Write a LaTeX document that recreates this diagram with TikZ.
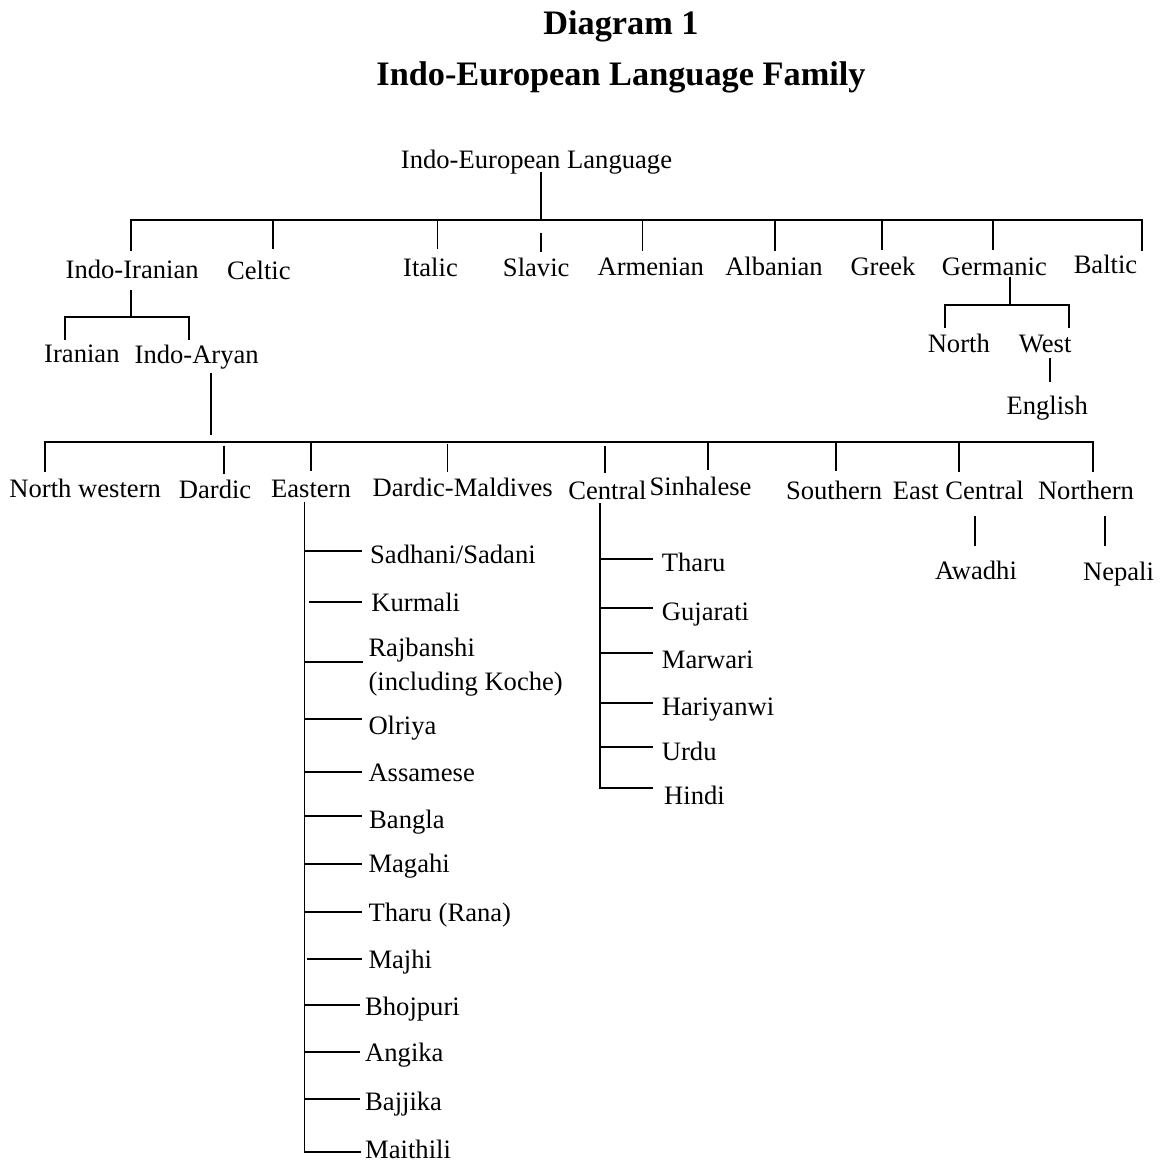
\documentclass[tikz,border=0pt]{standalone}
\usepackage{fontspec}
\setmainfont{Liberation Serif}
\begin{document}
\begin{tikzpicture}[x=1pt,y=-1pt,
  lbl/.style={inner sep=0pt, anchor=base, font=\fontsize{26.6}{32}\selectfont},
  lbll/.style={lbl, anchor=base west},
  ttl/.style={inner sep=0pt, anchor=base, font=\fontsize{34.3}{40}\selectfont\bfseries},
  br/.style={line width=1.8pt, line cap=butt, line join=miter}]
\path[use as bounding box, fill=white] (0,0) rectangle (1162,1169);

% titles
\node[ttl] (t1) at (621,35) {Diagram 1};
\node[ttl] (t2) at (621,86) {Indo-European Language Family};

% root
\node[lbl] (root) at (536.5,168) {Indo-European Language};
\coordinate (rootS) at (541,172);
\coordinate (rootB) at (541,220.3);
\draw[br] (rootS) -- (rootB);

% level 1 labels
\node[lbl] (ii)   at (132.2,278.3) {Indo-Iranian};
\node[lbl] (celt) at (258.9,279.3) {Celtic};
\node[lbl] (ital) at (430.5,276) {Italic};
\node[lbl] (slav) at (536.2,276) {Slavic};
\node[lbl] (arm)  at (650.8,275) {Armenian};
\node[lbl] (alb)  at (774,275) {Albanian};
\node[lbl] (grk)  at (883,275) {Greek};
\node[lbl] (germ) at (994.4,275) {Germanic};
\node[lbl] (balt) at (1105.5,273.3) {Baltic};

% top bar with end drops
\coordinate (barL) at (131,220.3);
\coordinate (barR) at (1141.6,220.3);
\coordinate (iiT) at (131,250.7);
\coordinate (baltT) at (1141.6,250.7);
\draw[br] (iiT) -- (barL) -- (barR) -- (baltT);
% inner drops
\coordinate (celtA) at (273.2,220.3); \coordinate (celtT) at (273.2,249);
\coordinate (italA) at (437.4,220.3); \coordinate (italT) at (437.4,248.7);
\coordinate (slavA) at (540.8,232.7); \coordinate (slavT) at (540.8,251.7);
\coordinate (armA)  at (642.5,220.3); \coordinate (armT)  at (642.5,250.7);
\coordinate (albA)  at (775,220.3);   \coordinate (albT)  at (775,251);
\coordinate (grkA)  at (881.7,220.3); \coordinate (grkT)  at (881.7,250);
\coordinate (germA) at (992.6,220.3); \coordinate (germT) at (992.6,249.7);
\draw[br] (celtA) -- (celtT);
\draw[br] (italA) -- (italT);
\draw[br] (slavA) -- (slavT);
\draw[br] (armA) -- (armT);
\draw[br] (albA) -- (albT);
\draw[br] (grkA) -- (grkT);
\draw[br] (germA) -- (germT);

% Indo-Iranian subtree
\node[lbl] (iran) at (81.9,362.7) {Iranian};
\node[lbl] (ia)   at (196.7,363) {Indo-Aryan};
\coordinate (iiS) at (130.9,290);
\coordinate (iiB) at (130.9,316.7);
\draw[br] (iiS) -- (iiB);
\coordinate (iranT) at (65,340);
\coordinate (iaT) at (188.7,340);
\draw[br] (iranT) -- (65,316.7) -- (188.7,316.7) -- (iaT);

% Germanic subtree
\node[lbl] (gn) at (958.8,352.3) {North};
\node[lbl] (gw) at (1045.2,352.3) {West};
\node[lbl] (eng) at (1047.2,414) {English};
\coordinate (germS) at (1009.9,277.3);
\coordinate (germB) at (1009.9,305);
\draw[br] (germS) -- (germB);
\coordinate (gnT) at (944.6,328.3);
\coordinate (gwT) at (1068.6,328.3);
\draw[br] (gnT) -- (944.6,305) -- (1068.6,305) -- (gwT);
\coordinate (gwS) at (1050.2,358.3);
\coordinate (engT) at (1050.2,382.3);
\draw[br] (gwS) -- (engT);

% Indo-Aryan stem and bar
\coordinate (iaS) at (210.9,373.3);
\coordinate (iaE) at (210.9,435);
\draw[br] (iaS) -- (iaE);
\coordinate (nwT) at (45.2,471.7);
\coordinate (nT) at (1092.8,471.7);
\draw[br] (nwT) -- (45.2,442.3) -- (1092.8,442.3) -- (nT);

% level 3 labels
\node[lbl] (nw)  at (85.2,497.7) {North western};
\node[lbl] (dar) at (215.1,498.3) {Dardic};
\node[lbl] (eas) at (311,497.7) {Eastern};
\node[lbl] (dm)  at (462.7,496.7) {Dardic-Maldives};
\node[lbl] (cen) at (607.4,499.3) {Central};
\node[lbl] (sin) at (700.5,495.3) {Sinhalese};
\node[lbl] (sou) at (834.1,499.3) {Southern};
\node[lbl] (ec)  at (958.3,499.3) {East Central};
\node[lbl] (nor) at (1086,499.3) {Northern};

\coordinate (darA) at (223.9,445.7); \coordinate (darT) at (223.9,474.3);
\coordinate (easA) at (310.8,442.3); \coordinate (easT) at (310.8,470.7);
\coordinate (dmA)  at (447.4,444);   \coordinate (dmT)  at (447.4,472.3);
\coordinate (cenA) at (605.3,445.7); \coordinate (cenT) at (605.3,473.3);
\coordinate (sinA) at (707.8,442.3); \coordinate (sinT) at (707.8,470);
\coordinate (souA) at (835.6,442.3); \coordinate (souT) at (835.6,470.7);
\coordinate (ecA)  at (959.2,442.3); \coordinate (ecT)  at (959.2,472.3);
\draw[br] (darA) -- (darT);
\draw[br] (easA) -- (easT);
\draw[br] (dmA) -- (dmT);
\draw[br] (cenA) -- (cenT);
\draw[br] (sinA) -- (sinT);
\draw[br] (souA) -- (souT);
\draw[br] (ecA) -- (ecT);

% East Central / Northern children
\node[lbl] (awa) at (976,579) {Awadhi};
\node[lbl] (nep) at (1118.5,580) {Nepali};
\coordinate (ecS) at (974.6,516); \coordinate (awaT) at (974.6,545.7);
\coordinate (norS) at (1105,516); \coordinate (nepT) at (1105,545.7);
\draw[br] (ecS) -- (awaT);
\draw[br] (norS) -- (nepT);

% Eastern subtree
\node[lbll] (sad) at (370,563.3) {Sadhani/Sadani};
\node[lbll] (kur) at (371.2,611) {Kurmali};
\node[lbll] (raj) at (368.3,656.7) {Rajbanshi};
\node[lbll] (raj2) at (368.3,690) {(including Koche)};
\node[lbll] (olr) at (368.3,734) {Olriya};
\node[lbll] (ass) at (368.3,781.7) {Assamese};
\node[lbll] (ban) at (369,828.3) {Bangla};
\node[lbll] (mag) at (368.3,872.3) {Magahi};
\node[lbll] (thr) at (368.3,921.7) {Tharu (Rana)};
\node[lbll] (maj) at (368.3,968.3) {Majhi};
\node[lbll] (bho) at (365,1015) {Bhojpuri};
\node[lbll] (ang) at (365,1061.7) {Angika};
\node[lbll] (baj) at (365,1110) {Bajjika};
\node[lbll] (mai) at (365,1158.3) {Maithili};

\coordinate (easS) at (304.5,501.7);
\coordinate (maiL) at (361,1152.3);
\draw[br] (easS) |- (maiL);
\foreach \nm/\xa/\xb/\yy in {sad/304.5/361.7/551, kur/309.2/361.7/601.7, raj/304.5/362.7/661.7,
  olr/304.5/361.7/719, ass/304.5/361.7/772.3, ban/304.5/361.7/815.7, mag/304.5/361.7/864,
  thr/304.5/361.7/911.7, maj/307.3/361.7/959.3, bho/304.5/360/1005, ang/304.5/360/1051.7,
  baj/304.5/360/1099}{
  \coordinate (\nm A) at (\xa,\yy);
  \coordinate (\nm B) at (\xb,\yy);
  \draw[br] (\nm A) -- (\nm B);
}

% Central subtree
\node[lbll] (tha) at (661.7,571.7) {Tharu};
\node[lbll] (guj) at (661.7,620) {Gujarati};
\node[lbll] (mar) at (661.7,668.3) {Marwari};
\node[lbll] (har) at (661.7,715) {Hariyanwi};
\node[lbll] (urd) at (661.7,760) {Urdu};
\node[lbll] (hin) at (664,804) {Hindi};

\coordinate (cenS) at (600.3,502.7);
\coordinate (hinL) at (653.3,787.7);
\draw[br] (cenS) |- (hinL);
\foreach \nm/\yy in {tha/559, guj/608.3, mar/652.7, har/702.7, urd/746.7}{
  \coordinate (\nm A) at (600.3,\yy);
  \coordinate (\nm B) at (653.3,\yy);
  \draw[br] (\nm A) -- (\nm B);
}
\end{tikzpicture}
\end{document}
